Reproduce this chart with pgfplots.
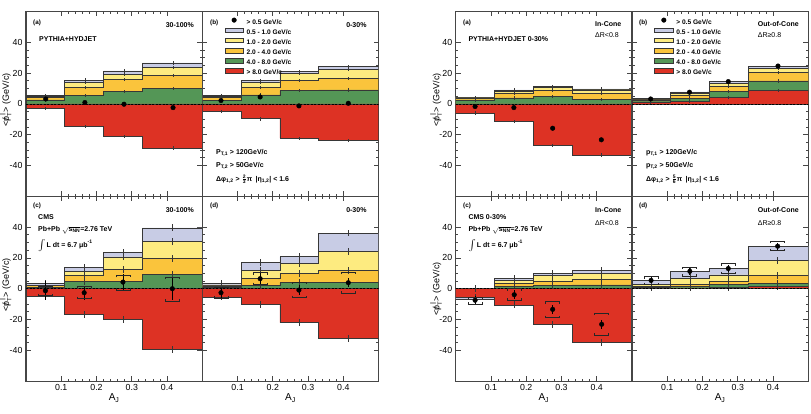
\documentclass[border=0pt]{standalone}
\usepackage{fontspec}
\setmainfont{Liberation Sans}
\usepackage{amsmath}
\usepackage{pgfplots}
\usepackage{pgfplotstable}
\pgfplotsset{compat=1.18}

\definecolor{cRed}{RGB}{221,50,36}
\definecolor{cGreen}{RGB}{84,150,86}
\definecolor{cOrange}{RGB}{250,196,60}
\definecolor{cYellow}{RGB}{253,235,128}
\definecolor{cBlue}{RGB}{200,204,229}
\definecolor{cEdge}{RGB}{55,55,55}
\definecolor{cFrame}{RGB}{70,70,70}

% systematic brackets: upper one opens downwards, lower one upwards
\pgfdeclareplotmark{brkU}{%
  \pgfpathmoveto{\pgfqpoint{-\pgfplotmarksize}{-2pt}}%
  \pgfpathlineto{\pgfqpoint{-\pgfplotmarksize}{0pt}}%
  \pgfpathlineto{\pgfqpoint{\pgfplotmarksize}{0pt}}%
  \pgfpathlineto{\pgfqpoint{\pgfplotmarksize}{-2pt}}%
  \pgfusepathqstroke}
\pgfdeclareplotmark{brkD}{%
  \pgfpathmoveto{\pgfqpoint{-\pgfplotmarksize}{2pt}}%
  \pgfpathlineto{\pgfqpoint{-\pgfplotmarksize}{0pt}}%
  \pgfpathlineto{\pgfqpoint{\pgfplotmarksize}{0pt}}%
  \pgfpathlineto{\pgfqpoint{\pgfplotmarksize}{2pt}}%
  \pgfusepathqstroke}

\pgfplotsset{
  panel/.style={
    anchor=north west, scale only axis, width=176.3pt, height=184.8pt,
    xmin=0, xmax=0.5, ymin=-60, ymax=60,
    xtick={0.1,0.2,0.3,0.4}, ytick={-40,-20,0,20,40},
    minor x tick num=4, minor y tick num=3,
    tick pos=both, tick align=inside,
    xticklabel pos=lower, yticklabel pos=left,
    major tick length=5pt, minor tick length=2.6pt,
    xticklabels={}, yticklabels={},
    axis line style={draw=cFrame, line width=1.1pt},
    every tick/.style={draw=cFrame, line width=0.8pt},
    tick label style={font=\fontsize{8.8}{10}\selectfont},
  },
  ylab/.style={yticklabels={-40,-20,0,20,40}},
  xlab/.style={xticklabels={0.1,0.2,0.3,0.4},
    xlabel={A\textsubscript{J}},
    xlabel style={at={(axis description cs:0.5,-0.092)}, anchor=center,
      font=\fontsize{10}{12}\selectfont}},
  boxleg/.style={legend image code/.code={%
    \draw[fill=#1, draw=cEdge, line width=0.6pt] (0pt,0.2pt) rectangle (18.5pt,4.6pt);}},
  legbox/.style={legend cell align=left,
    legend style={at={(axis description cs:0.125,0.968)}, anchor=north west,
      draw=none, fill=none, inner sep=0pt, row sep=1.87pt, column sep=3pt,
      font=\fontsize{6.6}{7.5}\selectfont\bfseries,
      nodes={inner sep=0pt, text height=5.0pt, text depth=1.8pt}}},
}

% stacked layers: b,y,o,g = upper edge of the blue, yellow, orange, green layer; r = red layer
\newcommand{\drawlayers}[2]{%
  \addplot[const plot, forget plot, fill=cBlue, draw=cEdge, line width=0.7pt] table[x=xl,y=b]{#1} \closedcycle;
  \addplot[const plot, forget plot, fill=cYellow, draw=cEdge, line width=0.7pt] table[x=xl,y=y]{#1} \closedcycle;
  \addplot[const plot, forget plot, fill=cOrange, draw=cEdge, line width=0.7pt] table[x=xl,y=o]{#1} \closedcycle;
  \addplot[const plot, forget plot, fill=cGreen, draw=cEdge, line width=0.7pt] table[x=xl,y=g]{#1} \closedcycle;
  \addplot[const plot, forget plot, fill=cRed, draw=cEdge, line width=0.7pt] table[x=xl,y=r]{#1} \closedcycle;
  \addplot[forget plot, draw=none, error bars/.cd, y dir=both, y fixed=#2, error mark=none,
    error bar style={draw=cEdge, line width=0.5pt}] table[x=xc,y=b]{#1};
  \addplot[forget plot, draw=none, error bars/.cd, y dir=both, y fixed=#2, error mark=none,
    error bar style={draw=cEdge, line width=0.5pt}] table[x=xc,y=y]{#1};
  \addplot[forget plot, draw=none, error bars/.cd, y dir=both, y fixed=#2, error mark=none,
    error bar style={draw=cEdge, line width=0.5pt}] table[x=xc,y=o]{#1};
  \addplot[forget plot, draw=none, error bars/.cd, y dir=both, y fixed=#2, error mark=none,
    error bar style={draw=cEdge, line width=0.5pt}] table[x=xc,y=g]{#1};
  \addplot[forget plot, draw=none, error bars/.cd, y dir=both, y fixed=#2, error mark=none,
    error bar style={draw=cEdge, line width=0.5pt}] table[x=xc,y=r]{#1};
  \addplot[forget plot, black, line width=0.6pt, dash pattern=on 2pt off 1.5pt] coordinates {(0,0) (0.5,0)};
}
\newcommand{\drawpts}[1]{%
  \addplot[forget plot, only marks, mark=*, mark size=2.3pt, black] table[x=x,y=y]{#1};}
\newcommand{\drawcms}[1]{%
  \addplot[forget plot, only marks, mark=*, mark size=2.3pt, black,
    error bars/.cd, y dir=both, y explicit, error mark=none,
    error bar style={black, line width=0.7pt}] table[x=x,y=y,y error=e]{#1};
  \addplot[forget plot, only marks, mark=brkU, mark size=7pt, black!85, line width=0.7pt] table[x=x,y=su]{#1};
  \addplot[forget plot, only marks, mark=brkD, mark size=7pt, black!85, line width=0.7pt] table[x=x,y=sd]{#1};}
\newcommand{\legendrows}{%
  \addlegendimage{legend image code/.code={\fill[black] (9.3pt,2.4pt) circle (2.3pt);}}
  \addlegendentry{> 0.5 GeV/c}
  \addlegendimage{boxleg=cBlue}\addlegendentry{0.5 - 1.0 GeV/c}
  \addlegendimage{boxleg=cYellow}\addlegendentry{1.0 - 2.0 GeV/c}
  \addlegendimage{boxleg=cOrange}\addlegendentry{2.0 - 4.0 GeV/c}
  \addlegendimage{boxleg=cGreen}\addlegendentry{4.0 - 8.0 GeV/c}
  \addlegendimage{boxleg=cRed}\addlegendentry{> 8.0 GeV/c}}

% ---------------- data ----------------
% PYTHIA+HYDJET, 30-100%
\pgfplotstableread{
xl   xc    b    y    o    g    r
0    0.056 5.6  4.9  4.3  2.6  -2.8
0.11 0.167 15.5 13.8 10.8 5.4  -14.7
0.22 0.278 21.4 19.4 16.0 8.0  -21.2
0.33 0.417 26.6 23.8 18.6 10.2 -28.7
0.5  0.417 26.6 23.8 18.6 10.2 -28.7
}\tLA
% PYTHIA+HYDJET, 0-30%
\pgfplotstableread{
xl   xc    b    y    o    g    r
0    0.053 5.4  4.8  4.1  2.4  -5.0
0.11 0.164 15.1 13.8 10.8 5.8  -9.7
0.22 0.274 20.9 19.9 15.1 8.6  -22.3
0.33 0.414 24.2 22.5 16.6 9.1  -23.8
0.5  0.414 24.2 22.5 16.6 9.1  -23.8
}\tLB
% CMS, 30-100%
\pgfplotstableread{
xl   xc    b    y    o    g    r
0    0.055 3.7  2.4  1.9  1.0  -4.8
0.11 0.165 13.6 11.2 8.8  4.5  -16.6
0.22 0.275 23.5 20.6 12.6 4.5  -19.9
0.33 0.415 39.5 30.7 19.8 9.0  -39.7
0.5  0.415 39.5 30.7 19.8 9.0  -39.7
}\tLC
% CMS, 0-30%
\pgfplotstableread{
xl   xc    b    y    o    g    r
0    0.053 3.2  2.5  1.8  1.0  -5.4
0.11 0.164 16.8 11.6 6.7  2.4  -10.4
0.22 0.274 20.9 16.6 9.8  4.0  -22.0
0.33 0.414 36.1 24.4 12.0 4.0  -32.4
0.5  0.414 36.1 24.4 12.0 4.0  -32.4
}\tLD
% PYTHIA+HYDJET 0-30%, in-cone
\pgfplotstableread{
xl   xc    b    y    o    g    r
0    0.055 4.3  3.9  3.4  2.6  -6.0
0.11 0.165 9.1  8.2  6.8  3.9  -11.4
0.22 0.275 11.2 10.6 8.6  4.8  -27.0
0.33 0.413 9.7  9.1  6.9  3.0  -33.3
0.5  0.413 9.7  9.1  6.9  3.0  -33.3
}\tRA
% PYTHIA+HYDJET 0-30%, out-of-cone
\pgfplotstableread{
xl   xc    b    y    o    g    r
0    0.053 3.5  3.0  2.6  2.2  1.3
0.11 0.163 7.8  6.9  5.4  3.7  1.5
0.22 0.273 14.5 13.4 11.2 8.0  4.1
0.33 0.414 24.6 23.1 20.3 14.9 8.6
0.5  0.414 24.6 23.1 20.3 14.9 8.6
}\tRB
% CMS 0-30%, in-cone
\pgfplotstableread{
xl   xc    b    y    o    g    r
0    0.055 -6.9 0.0  0.0  0.0  -5.4
0.11 0.166 6.5  5.4  3.2  1.7  -10.5
0.22 0.275 9.9  8.4  5.0  2.2  -23.4
0.33 0.414 11.6 9.8  6.3  2.5  -35.0
0.5  0.414 11.6 9.8  6.3  2.5  -35.0
}\tRC
% CMS 0-30%, out-of-cone
\pgfplotstableread{
xl   xc    b    y    o    g    r
0    0.054 5.2  2.7  1.7  1.0  0.4
0.11 0.164 11.2 6.5  2.8  1.7  0.5
0.22 0.273 13.0 8.9  5.0  2.8  1.0
0.33 0.413 27.6 18.2 8.6  3.6  1.5
0.5  0.413 27.6 18.2 8.6  3.6  1.5
}\tRD

% total <pT> points (x, value, stat. error, upper/lower systematic edge)
\pgfplotstableread{
x     y
0.056 3.2
0.167 0.9
0.278 -0.2
0.417 -2.4
}\pLA
\pgfplotstableread{
x     y
0.053 2.2
0.164 4.5
0.274 -1.3
0.414 0.4
}\pLB
\pgfplotstableread{
x     y     e    su    sd
0.055 -1.3  6.0  1.5   -4.5
0.165 -2.6  4.5  1.7   -6.5
0.275 4.3   5.0  8.6   -0.9
0.415 0.0   7.5  7.5   -8.3
}\pLC
\pgfplotstableread{
x     y     e    su    sd
0.053 -2.6  3.5  1.0   -6.0
0.164 6.5   3.5  10.4  2.6
0.274 -0.9  3.5  4.3   -5.8
0.414 3.9   3.0  10.8  -3.0
}\pLD
\pgfplotstableread{
x     y
0.055 -1.7
0.165 -2.4
0.275 -15.8
0.413 -23.3
}\pRA
\pgfplotstableread{
x     y
0.053 3.2
0.163 7.6
0.273 14.5
0.414 24.6
}\pRB
\pgfplotstableread{
x     y     e    su    sd
0.055 -7.5  2.5  -5.3  -10.0
0.166 -3.9  3.0  0.0   -7.4
0.275 -13.4 3.0  -8.5  -18.8
0.414 -23.1 3.0  -15.8 -30.2
}\pRC
\pgfplotstableread{
x     y     e    su    sd
0.054 5.4   2.0  7.8   2.6
0.164 11.3  2.2  14.0  8.2
0.273 13.1  2.2  16.2  9.8
0.413 27.6  2.2  30.9  24.6
}\pRD

\newcommand{\tf}{\fontsize{7}{8.4}\selectfont\bfseries}
\newcommand{\lf}{\fontsize{6.3}{7.5}\selectfont\bfseries}
\newcommand{\ylab}{<\ooalign{p\cr\hidewidth/\hidewidth}$^{\parallel}_{\mathrm{T}}$> (GeV/c)}
\newcommand{\lumi}{\raisebox{-0.25ex}[0.6ex][0pt]{\fontsize{11}{11}\selectfont$\int$}\,L dt = 6.7 μb\textsuperscript{-1}}

\begin{document}
\begin{tikzpicture}
\useasboundingbox (0,0) rectangle (811pt,-414pt);

% ---------- left block ----------
\begin{axis}[panel, ylab, at={(26pt,-11.5pt)}]
  \drawlayers{\tLA}{1.1}
  \drawpts{\pLA}
\end{axis}
\begin{axis}[panel, legbox, at={(202.3pt,-11.5pt)}]
  \drawlayers{\tLB}{1.1}
  \drawpts{\pLB}
  \legendrows
\end{axis}
\begin{axis}[panel, ylab, xlab, at={(26pt,-196.3pt)}]
  \drawlayers{\tLC}{2.2}
  \drawcms{\pLC}
\end{axis}
\begin{axis}[panel, xlab, at={(202.3pt,-196.3pt)}]
  \drawlayers{\tLD}{2.2}
  \drawcms{\pLD}
\end{axis}

% ---------- right block ----------
\begin{axis}[panel, ylab, at={(455.7pt,-11.5pt)}]
  \drawlayers{\tRA}{1.1}
  \drawpts{\pRA}
\end{axis}
\begin{axis}[panel, legbox, at={(632pt,-11.5pt)}]
  \drawlayers{\tRB}{1.1}
  \drawpts{\pRB}
  \legendrows
\end{axis}
\begin{axis}[panel, ylab, xlab, at={(455.7pt,-196.3pt)}]
  \drawlayers{\tRC}{2.2}
  \drawcms{\pRC}
\end{axis}
\begin{axis}[panel, xlab, at={(632pt,-196.3pt)}]
  \drawlayers{\tRD}{2.2}
  \drawcms{\pRD}
\end{axis}

% ---------- axis titles ----------
\node[rotate=90, font=\fontsize{9}{10}\selectfont] at (5.5pt,-100pt) {\ylab};
\node[rotate=90, font=\fontsize{9}{10}\selectfont] at (5.5pt,-285pt) {\ylab};
\node[rotate=90, font=\fontsize{9}{10}\selectfont] at (436pt,-100pt) {\ylab};
\node[rotate=90, font=\fontsize{9}{10}\selectfont] at (436pt,-289pt) {\ylab};

% ---------- panel annotations, left block ----------
\begin{scope}[every node/.style={inner sep=0pt, font=\tf}]
\node[anchor=west, font=\lf] at (33pt,-23pt) {(a)};
\node[anchor=east] at (194pt,-25pt) {30-100\%};
\node[anchor=west] at (39pt,-39.3pt) {PYTHIA+HYDJET};
\node[anchor=west, font=\lf] at (210pt,-23pt) {(b)};
\node[anchor=east] at (366.7pt,-25pt) {0-30\%};
\node[anchor=west] at (216pt,-153pt) {P\textsubscript{T,1} > 120GeV/c};
\node[anchor=west] at (216pt,-166pt) {P\textsubscript{T,2} > 50GeV/c};
\node[anchor=west] at (216pt,-179.5pt) {Δφ\textsubscript{1,2} > \raisebox{0pt}[0.8ex][0pt]{$\tfrac{\text{2}}{\text{3}}$}π\enspace|η\textsubscript{1,2}| < 1.6};
\node[anchor=west, font=\lf] at (33pt,-206pt) {(c)};
\node[anchor=east] at (194pt,-210pt) {30-100\%};
\node[anchor=west] at (38pt,-217pt) {CMS};
\node[anchor=west] at (38pt,-230pt) {Pb+Pb $\sqrt{\text{s}_{\text{NN}}}$=2.76 TeV};
\node[anchor=west] at (38pt,-244.5pt) {\lumi};
\node[anchor=west, font=\lf] at (210pt,-206pt) {(d)};
\node[anchor=east] at (366.7pt,-210pt) {0-30\%};

% ---------- panel annotations, right block ----------
\node[anchor=west, font=\lf] at (463pt,-23pt) {(a)};
\node[anchor=west] at (468.3pt,-39.3pt) {PYTHIA+HYDJET 0-30\%};
\node[anchor=west] at (595pt,-24.5pt) {In-Cone};
\node[anchor=west, font=\fontsize{7}{8.4}\selectfont] at (595pt,-35pt) {ΔR<0.8};
\node[anchor=west, font=\lf] at (639pt,-23pt) {(b)};
\node[anchor=west] at (757.7pt,-24.5pt) {Out-of-Cone};
\node[anchor=west, font=\fontsize{7}{8.4}\selectfont] at (757.7pt,-35pt) {ΔR≥0.8};
\node[anchor=west] at (646pt,-153pt) {p\textsubscript{T,1} > 120GeV/c};
\node[anchor=west] at (646pt,-166pt) {p\textsubscript{T,2} > 50GeV/c};
\node[anchor=west] at (646pt,-179.5pt) {Δφ\textsubscript{1,2} > \raisebox{0pt}[0.8ex][0pt]{$\tfrac{\text{5}}{\text{6}}$}π\enspace|η\textsubscript{1,2}| < 1.6};
\node[anchor=west, font=\lf] at (463pt,-206pt) {(c)};
\node[anchor=west] at (468.3pt,-217pt) {CMS 0-30\%};
\node[anchor=west] at (468.3pt,-230pt) {Pb+Pb $\sqrt{\text{s}_{\text{NN}}}$=2.76 TeV};
\node[anchor=west] at (468.3pt,-244.5pt) {\lumi};
\node[anchor=west] at (595pt,-210pt) {In-Cone};
\node[anchor=west, font=\fontsize{7}{8.4}\selectfont] at (595pt,-223pt) {ΔR<0.8};
\node[anchor=west, font=\lf] at (639pt,-206pt) {(d)};
\node[anchor=west] at (757.7pt,-210pt) {Out-of-Cone};
\node[anchor=west, font=\fontsize{7}{8.4}\selectfont] at (757.7pt,-223.5pt) {ΔR≥0.8};
\end{scope}
\end{tikzpicture}
\end{document}
